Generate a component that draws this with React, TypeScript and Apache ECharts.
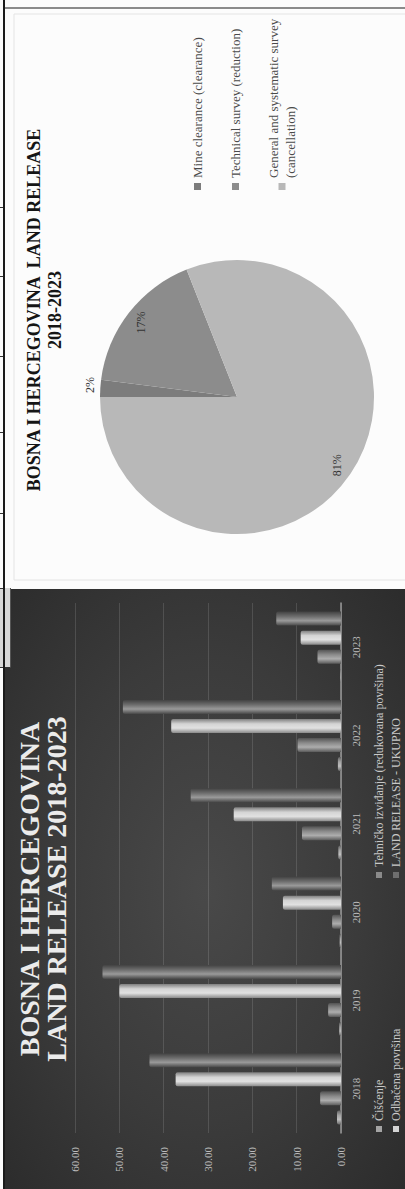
import React, { useEffect, useRef } from 'react';
import * as echarts from 'echarts';

// ---------- data ----------
const years = ['2018', '2019', '2020', '2021', '2022', '2023'];
const barSeriesNames = [
  'Čišćenje',
  'Tehničko izviđanje (redukovana površina)',
  'Odbačena površina',
  'LAND RELEASE - UKUPNO',
];
const ciscenje = [0.9, 0.4, 0.3, 0.6, 0.7, 0.1];
const tehnicko = [4.7, 2.9, 2.0, 8.8, 9.8, 5.3];
const odbacena = [37.3, 50.0, 13.1, 24.2, 38.3, 9.1];
const ukupno = [43.2, 53.8, 15.6, 33.9, 49.2, 14.6];
const valueMin = 0;
const valueMax = 60;
const valueStep = 10;

const pieNames = [
  'Mine clearance (clearance)',
  'Technical survey (reduction)',
  'General and systematic survey (cancellation)',
];
const pieValues = [2, 17, 81];

const barTitle = ['BOSNA I HERCEGOVINA', 'LAND RELEASE 2018-2023'];
const pieTitle = ['BOSNA I HERCEGOVINA  LAND RELEASE', '2018-2023'];

// ---------- style ----------
const SERIF = '"Liberation Serif", "DejaVu Serif", serif';
const barColors = ['#a4a4a4', '#8a8a8a', '#d4d4d4', '#6e6e6e'];
const pieColors = ['#7c7c7c', '#8c8c8c', '#b8b8b8'];

function shade(hex: string, f: number) {
  const n = parseInt(hex.slice(1), 16);
  const t = f < 0 ? 0 : 255;
  const p = Math.abs(f);
  const ch = (c: number) => Math.round((t - c) * p + c);
  return `rgb(${ch(n >> 16)},${ch((n >> 8) & 255)},${ch(n & 255)})`;
}

function BarChart() {
  const ref = useRef<HTMLDivElement>(null);
  useEffect(() => {
    if (!ref.current) return;
    const chart = echarts.init(ref.current, undefined, { renderer: 'svg', width: 600, height: 400 });
    const data = [ciscenje, tehnicko, odbacena, ukupno];
    const legendPos = [
      { left: 52, top: 363 },
      { left: 306, top: 363 },
      { left: 52, top: 380 },
      { left: 306, top: 380 },
    ];
    chart.setOption({
      animation: false,
      backgroundColor: 'transparent',
      graphic: [
        {
          type: 'text', x: 300, y: 24,
          style: { text: barTitle[0], fontSize: 28, fontWeight: 'bold', fontFamily: SERIF, fill: '#ebebeb', align: 'center', verticalAlign: 'middle' },
        },
        {
          type: 'text', x: 300, y: 51,
          style: { text: barTitle[1], fontSize: 28, fontWeight: 'bold', fontFamily: SERIF, fill: '#ebebeb', align: 'center', verticalAlign: 'middle' },
        },
      ],
      grid: { left: 56, right: 14, top: 70, bottom: 64 },
      legend: barSeriesNames.map((name, i) => ({
        data: [{ name, itemStyle: { color: barColors[i] } }],
        left: legendPos[i].left,
        top: legendPos[i].top,
        icon: 'rect',
        itemWidth: 6,
        itemHeight: 6,
        itemGap: 0,
        selectedMode: false,
        textStyle: { color: '#c8c8c8', fontSize: 12, fontFamily: SERIF },
      })),
      xAxis: {
        type: 'category',
        data: years,
        axisTick: { show: false },
        axisLine: { lineStyle: { color: '#9a9a9a', width: 1.5 } },
        axisLabel: { color: '#bdbdbd', fontSize: 11, fontFamily: SERIF, margin: 9 },
      },
      yAxis: {
        type: 'value',
        min: valueMin,
        max: valueMax,
        interval: valueStep,
        axisLine: { show: false },
        axisTick: { show: false },
        axisLabel: { color: '#bdbdbd', fontSize: 11, fontFamily: SERIF, margin: 14, formatter: (v: number) => v.toFixed(2) },
        splitLine: { lineStyle: { color: 'rgba(255,255,255,0.13)', width: 1 } },
      },
      series: barSeriesNames.map((name, i) => {
        const c = barColors[i];
        return {
          name,
          type: 'bar',
          data: data[i],
          barWidth: 14,
          barGap: '36%',
          itemStyle: {
            borderRadius: [2, 2, 0, 0],
            color: new echarts.graphic.LinearGradient(0, 0, 1, 0, [
              { offset: 0, color: shade(c, -0.35) },
              { offset: 0.35, color: shade(c, 0.3) },
              { offset: 0.65, color: c },
              { offset: 1, color: shade(c, -0.4) },
            ]),
          },
        };
      }),
    });
    return () => chart.dispose();
  }, []);
  return (
    <div
      ref={ref}
      style={{
        position: 'absolute', left: 0, top: 5, width: 600, height: 400,
        background: 'radial-gradient(ellipse at 50% 50%, #494949 0%, #3b3b3b 55%, #2c2c2c 100%)',
      }}
    />
  );
}

function PieChart() {
  const ref = useRef<HTMLDivElement>(null);
  useEffect(() => {
    if (!ref.current) return;
    const chart = echarts.init(ref.current, undefined, { renderer: 'svg', width: 580, height: 400 });
    const center = [191, 232];
    chart.setOption({
      animation: false,
      graphic: [
        {
          type: 'rect', shape: { x: 8, y: 9, width: 566, height: 400 },
          style: { fill: 'none', stroke: '#e4e4e4', lineWidth: 1 }, silent: true,
        },
        {
          type: 'text', x: 278, y: 29,
          style: { text: pieTitle[0], fontSize: 18, fontWeight: 'bold', fontFamily: SERIF, fill: '#151515', align: 'center', verticalAlign: 'middle' },
        },
        {
          type: 'text', x: 278, y: 50,
          style: { text: pieTitle[1], fontSize: 18, fontWeight: 'bold', fontFamily: SERIF, fill: '#151515', align: 'center', verticalAlign: 'middle' },
        },
      ],
      legend: {
        orient: 'vertical',
        left: 393,
        top: 179,
        icon: 'rect',
        itemWidth: 7,
        itemHeight: 7,
        itemGap: 21,
        selectedMode: false,
        data: pieNames,
        formatter: (n: string) => (n.startsWith('General') ? 'General and systematic survey\n(cancellation)' : n),
        textStyle: { fontSize: 13, color: '#4a4a4a', fontFamily: SERIF, lineHeight: 17 },
      },
      series: [
        {
          type: 'pie',
          center,
          radius: [0, 137],
          startAngle: 90,
          clockwise: true,
          label: { show: false },
          labelLine: { show: false },
          data: pieNames.map((name, i) => ({ name, value: pieValues[i], itemStyle: { color: pieColors[i] } })),
        },
        {
          type: 'pie',
          center,
          radius: [100, 137],
          startAngle: 90,
          clockwise: true,
          silent: true,
          itemStyle: { color: 'rgba(0,0,0,0)' },
          label: {
            show: true,
            position: 'inside',
            color: '#333',
            fontSize: 12,
            fontFamily: SERIF,
            formatter: (p: any) => Math.round(p.percent) + '%',
          },
          labelLine: { show: false },
          labelLayout: (params: any) => (params.dataIndex === 0 ? { dx: -10, dy: -4 } : {}),
          data: pieNames.map((name, i) =>
            i === 0
              ? {
                  name, value: pieValues[i],
                  label: { position: 'outside' },
                  labelLine: { show: false, length: 6, length2: 0 },
                }
              : { name, value: pieValues[i] }
          ),
        },
      ],
    });
    return () => chart.dispose();
  }, []);
  return (
    <div
      ref={ref}
      style={{ position: 'absolute', left: 601, top: 5, width: 580, height: 400, background: '#fcfcfc' }}
    />
  );
}

export default function App() {
  useEffect(() => {
    document.body.style.margin = '0';
  }, []);
  const ticks = [207, 276, 356, 432, 513, 588];
  return (
    <div style={{ position: 'fixed', left: 0, top: 0, width: 405, height: 1189, overflow: 'hidden', background: '#fbfbfb' }}>
      <div
        style={{
          position: 'absolute', left: 0, top: 0, width: 1189, height: 405,
          transformOrigin: '0 0', transform: 'translateY(1189px) rotate(-90deg)',
        }}
      >
        <BarChart />
        <PieChart />
      </div>
      <div style={{ position: 'absolute', left: 4, top: 7, width: 401, height: 2, background: '#8a8a8a' }} />
      <div style={{ position: 'absolute', left: 0, top: 588, width: 10, height: 79, background: '#d6d6d6', borderBottom: '1px solid #333', borderRight: '1px solid #555' }} />
      {ticks.map((t) => (
        <div key={t} style={{ position: 'absolute', left: 0, top: t, width: 4, height: 1, background: '#333' }} />
      ))}
      <div style={{ position: 'absolute', left: 3, top: 0, width: 2, height: 1189, background: '#1a1a1a' }} />
    </div>
  );
}
